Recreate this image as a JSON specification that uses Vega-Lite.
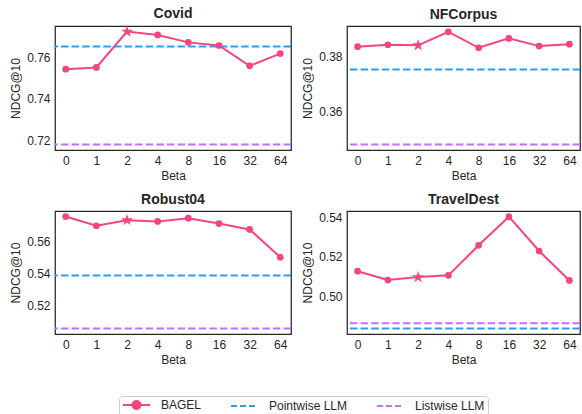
{
  "$schema": "https://vega.github.io/schema/vega-lite/v6.json",
  "padding": {"left": 9, "top": 6, "right": 0, "bottom": 0},
  "background": "white",
  "datasets": {
    "bagel": [
      {"dataset": "Covid", "method": "BAGEL", "beta": 0, "ndcg": 0.7544},
      {"dataset": "Covid", "method": "BAGEL", "beta": 1, "ndcg": 0.7552},
      {"dataset": "Covid", "method": "BAGEL", "beta": 2, "ndcg": 0.7725},
      {"dataset": "Covid", "method": "BAGEL", "beta": 4, "ndcg": 0.7709},
      {"dataset": "Covid", "method": "BAGEL", "beta": 8, "ndcg": 0.7673},
      {"dataset": "Covid", "method": "BAGEL", "beta": 16, "ndcg": 0.7658},
      {"dataset": "Covid", "method": "BAGEL", "beta": 32, "ndcg": 0.7560},
      {"dataset": "Covid", "method": "BAGEL", "beta": 64, "ndcg": 0.7619},
      {"dataset": "NFCorpus", "method": "BAGEL", "beta": 0, "ndcg": 0.3834},
      {"dataset": "NFCorpus", "method": "BAGEL", "beta": 1, "ndcg": 0.3841},
      {"dataset": "NFCorpus", "method": "BAGEL", "beta": 2, "ndcg": 0.3839},
      {"dataset": "NFCorpus", "method": "BAGEL", "beta": 4, "ndcg": 0.3888},
      {"dataset": "NFCorpus", "method": "BAGEL", "beta": 8, "ndcg": 0.3830},
      {"dataset": "NFCorpus", "method": "BAGEL", "beta": 16, "ndcg": 0.3864},
      {"dataset": "NFCorpus", "method": "BAGEL", "beta": 32, "ndcg": 0.3836},
      {"dataset": "NFCorpus", "method": "BAGEL", "beta": 64, "ndcg": 0.3843},
      {"dataset": "Robust04", "method": "BAGEL", "beta": 0, "ndcg": 0.5758},
      {"dataset": "Robust04", "method": "BAGEL", "beta": 1, "ndcg": 0.5700},
      {"dataset": "Robust04", "method": "BAGEL", "beta": 2, "ndcg": 0.5735},
      {"dataset": "Robust04", "method": "BAGEL", "beta": 4, "ndcg": 0.5727},
      {"dataset": "Robust04", "method": "BAGEL", "beta": 8, "ndcg": 0.5748},
      {"dataset": "Robust04", "method": "BAGEL", "beta": 16, "ndcg": 0.5714},
      {"dataset": "Robust04", "method": "BAGEL", "beta": 32, "ndcg": 0.5677},
      {"dataset": "Robust04", "method": "BAGEL", "beta": 64, "ndcg": 0.5502},
      {"dataset": "TravelDest", "method": "BAGEL", "beta": 0, "ndcg": 0.5127},
      {"dataset": "TravelDest", "method": "BAGEL", "beta": 1, "ndcg": 0.5082},
      {"dataset": "TravelDest", "method": "BAGEL", "beta": 2, "ndcg": 0.5097},
      {"dataset": "TravelDest", "method": "BAGEL", "beta": 4, "ndcg": 0.5106},
      {"dataset": "TravelDest", "method": "BAGEL", "beta": 8, "ndcg": 0.5259},
      {"dataset": "TravelDest", "method": "BAGEL", "beta": 16, "ndcg": 0.5405},
      {"dataset": "TravelDest", "method": "BAGEL", "beta": 32, "ndcg": 0.5230},
      {"dataset": "TravelDest", "method": "BAGEL", "beta": 64, "ndcg": 0.5080}
    ],
    "base": [
      {"dataset": "Covid", "method": "Pointwise LLM", "ndcg": 0.7653},
      {"dataset": "Covid", "method": "Listwise LLM", "ndcg": 0.7181},
      {"dataset": "NFCorpus", "method": "Pointwise LLM", "ndcg": 0.3751},
      {"dataset": "NFCorpus", "method": "Listwise LLM", "ndcg": 0.3479},
      {"dataset": "Robust04", "method": "Pointwise LLM", "ndcg": 0.5386},
      {"dataset": "Robust04", "method": "Listwise LLM", "ndcg": 0.5053},
      {"dataset": "TravelDest", "method": "Pointwise LLM", "ndcg": 0.4835},
      {"dataset": "TravelDest", "method": "Listwise LLM", "ndcg": 0.4862}
    ]
  },
  "spacing": 10,
  "vconcat": [
    {
      "spacing": 8,
      "hconcat": [
        {
          "width": 236, "height": 124, "title": "Covid",
          "layer": [
            {"data": {"name": "base"}, "transform": [{"filter": "datum.dataset === 'Covid'"}],
             "mark": {"type": "rule", "strokeWidth": 2, "strokeDash": [7.4, 3.2]},
             "encoding": {"y": {"field": "ndcg", "type": "quantitative", "scale": {"domain": [0.7154, 0.7752], "zero": false, "nice": false}, "axis": {"values": [0.72, 0.74, 0.76], "format": ".2f", "title": "NDCG@10"}},
                          "color": {"field": "method", "type": "nominal", "title": null, "scale": {"domain": ["BAGEL", "Pointwise LLM", "Listwise LLM"], "range": ["#f5457f", "#2a9df4", "#c86ef7"]},
                                    "legend": {"orient": "none", "legendX": 64, "legendY": 370, "direction": "horizontal",
                                               "encode": {"symbols": {"update": {
                                                 "shape": {"signal": "datum.value === 'BAGEL' ? 'M-1,0L4.4,0M0.9,0A0.8,0.8,0,1,0,2.5,0A0.8,0.8,0,1,0,0.9,0' : 'M-1,0L4.4,0'"},
                                                 "strokeDash": {"signal": "datum.value === 'BAGEL' ? [1,0] : [6,3]"},
                                                 "fill": {"signal": "datum.value === 'BAGEL' ? '#f5457f' : 'transparent'"},
                                                 "strokeWidth": {"value": 2}}}}}}}},
            {"data": {"name": "bagel"}, "transform": [{"filter": "datum.dataset === 'Covid'"}],
             "mark": {"type": "line", "strokeWidth": 2},
             "encoding": {"x": {"field": "beta", "type": "ordinal", "scale": {"type": "point", "padding": 0.35}, "axis": {"labelAngle": 0, "title": "Beta"}},
                          "y": {"field": "ndcg", "type": "quantitative"},
                          "color": {"field": "method", "type": "nominal", "title": null}}},
            {"data": {"name": "bagel"}, "transform": [{"filter": "datum.dataset === 'Covid' && datum.beta != 2"}],
             "mark": {"type": "point", "filled": true, "size": 45, "opacity": 1, "color": "#f5457f"},
             "encoding": {"x": {"field": "beta", "type": "ordinal"}, "y": {"field": "ndcg", "type": "quantitative"}}},
            {"data": {"name": "bagel"}, "transform": [{"filter": "datum.dataset === 'Covid' && datum.beta == 2"}],
             "mark": {"type": "point", "shape": "M0,-1L0.2245,-0.309L0.951,-0.309L0.3633,0.118L0.5878,0.809L0,0.382L-0.5878,0.809L-0.3633,0.118L-0.951,-0.309L-0.2245,-0.309Z", "filled": true, "size": 160, "opacity": 1, "color": "#f5457f"},
             "encoding": {"x": {"field": "beta", "type": "ordinal"}, "y": {"field": "ndcg", "type": "quantitative"}}}
          ]
        },
        {
          "width": 233, "height": 124, "title": "NFCorpus",
          "layer": [
            {"data": {"name": "base"}, "transform": [{"filter": "datum.dataset === 'NFCorpus'"}],
             "mark": {"type": "rule", "strokeWidth": 2, "strokeDash": [7.4, 3.2]},
             "encoding": {"y": {"field": "ndcg", "type": "quantitative", "scale": {"domain": [0.3459, 0.3909], "zero": false, "nice": false}, "axis": {"values": [0.36, 0.38], "format": ".2f", "title": "NDCG@10"}},
                          "color": {"field": "method", "type": "nominal", "title": null}}},
            {"data": {"name": "bagel"}, "transform": [{"filter": "datum.dataset === 'NFCorpus'"}],
             "mark": {"type": "line", "strokeWidth": 2},
             "encoding": {"x": {"field": "beta", "type": "ordinal", "scale": {"type": "point", "padding": 0.35}, "axis": {"labelAngle": 0, "title": "Beta"}},
                          "y": {"field": "ndcg", "type": "quantitative"},
                          "color": {"field": "method", "type": "nominal", "title": null}}},
            {"data": {"name": "bagel"}, "transform": [{"filter": "datum.dataset === 'NFCorpus' && datum.beta != 2"}],
             "mark": {"type": "point", "filled": true, "size": 45, "opacity": 1, "color": "#f5457f"},
             "encoding": {"x": {"field": "beta", "type": "ordinal"}, "y": {"field": "ndcg", "type": "quantitative"}}},
            {"data": {"name": "bagel"}, "transform": [{"filter": "datum.dataset === 'NFCorpus' && datum.beta == 2"}],
             "mark": {"type": "point", "shape": "M0,-1L0.2245,-0.309L0.951,-0.309L0.3633,0.118L0.5878,0.809L0,0.382L-0.5878,0.809L-0.3633,0.118L-0.951,-0.309L-0.2245,-0.309Z", "filled": true, "size": 160, "opacity": 1, "color": "#f5457f"},
             "encoding": {"x": {"field": "beta", "type": "ordinal"}, "y": {"field": "ndcg", "type": "quantitative"}}}
          ]
        }
      ]
    },
    {
      "spacing": 8,
      "hconcat": [
        {
          "width": 236, "height": 123, "title": "Robust04",
          "layer": [
            {"data": {"name": "base"}, "transform": [{"filter": "datum.dataset === 'Robust04'"}],
             "mark": {"type": "rule", "strokeWidth": 2, "strokeDash": [7.4, 3.2]},
             "encoding": {"y": {"field": "ndcg", "type": "quantitative", "scale": {"domain": [0.5018, 0.5793], "zero": false, "nice": false}, "axis": {"values": [0.52, 0.54, 0.56], "format": ".2f", "title": "NDCG@10"}},
                          "color": {"field": "method", "type": "nominal", "title": null}}},
            {"data": {"name": "bagel"}, "transform": [{"filter": "datum.dataset === 'Robust04'"}],
             "mark": {"type": "line", "strokeWidth": 2},
             "encoding": {"x": {"field": "beta", "type": "ordinal", "scale": {"type": "point", "padding": 0.35}, "axis": {"labelAngle": 0, "title": "Beta"}},
                          "y": {"field": "ndcg", "type": "quantitative"},
                          "color": {"field": "method", "type": "nominal", "title": null}}},
            {"data": {"name": "bagel"}, "transform": [{"filter": "datum.dataset === 'Robust04' && datum.beta != 2"}],
             "mark": {"type": "point", "filled": true, "size": 45, "opacity": 1, "color": "#f5457f"},
             "encoding": {"x": {"field": "beta", "type": "ordinal"}, "y": {"field": "ndcg", "type": "quantitative"}}},
            {"data": {"name": "bagel"}, "transform": [{"filter": "datum.dataset === 'Robust04' && datum.beta == 2"}],
             "mark": {"type": "point", "shape": "M0,-1L0.2245,-0.309L0.951,-0.309L0.3633,0.118L0.5878,0.809L0,0.382L-0.5878,0.809L-0.3633,0.118L-0.951,-0.309L-0.2245,-0.309Z", "filled": true, "size": 160, "opacity": 1, "color": "#f5457f"},
             "encoding": {"x": {"field": "beta", "type": "ordinal"}, "y": {"field": "ndcg", "type": "quantitative"}}}
          ]
        },
        {
          "width": 233, "height": 123, "title": "TravelDest",
          "layer": [
            {"data": {"name": "base"}, "transform": [{"filter": "datum.dataset === 'TravelDest'"}],
             "mark": {"type": "rule", "strokeWidth": 2, "strokeDash": [7.4, 3.2]},
             "encoding": {"y": {"field": "ndcg", "type": "quantitative", "scale": {"domain": [0.4807, 0.5434], "zero": false, "nice": false}, "axis": {"values": [0.50, 0.52, 0.54], "format": ".2f", "title": "NDCG@10"}},
                          "color": {"field": "method", "type": "nominal", "title": null}}},
            {"data": {"name": "bagel"}, "transform": [{"filter": "datum.dataset === 'TravelDest'"}],
             "mark": {"type": "line", "strokeWidth": 2},
             "encoding": {"x": {"field": "beta", "type": "ordinal", "scale": {"type": "point", "padding": 0.35}, "axis": {"labelAngle": 0, "title": "Beta"}},
                          "y": {"field": "ndcg", "type": "quantitative"},
                          "color": {"field": "method", "type": "nominal", "title": null}}},
            {"data": {"name": "bagel"}, "transform": [{"filter": "datum.dataset === 'TravelDest' && datum.beta != 2"}],
             "mark": {"type": "point", "filled": true, "size": 45, "opacity": 1, "color": "#f5457f"},
             "encoding": {"x": {"field": "beta", "type": "ordinal"}, "y": {"field": "ndcg", "type": "quantitative"}}},
            {"data": {"name": "bagel"}, "transform": [{"filter": "datum.dataset === 'TravelDest' && datum.beta == 2"}],
             "mark": {"type": "point", "shape": "M0,-1L0.2245,-0.309L0.951,-0.309L0.3633,0.118L0.5878,0.809L0,0.382L-0.5878,0.809L-0.3633,0.118L-0.951,-0.309L-0.2245,-0.309Z", "filled": true, "size": 160, "opacity": 1, "color": "#f5457f"},
             "encoding": {"x": {"field": "beta", "type": "ordinal"}, "y": {"field": "ndcg", "type": "quantitative"}}}
          ]
        }
      ]
    }
  ],
  "config": {
    "view": {"stroke": "#262626", "strokeWidth": 1.25},
    "axis": {"grid": false, "ticks": false, "domain": false, "labelFont": "Liberation Sans", "labelFontSize": 12, "labelColor": "#262626", "labelPadding": 5, "titleFont": "Liberation Sans", "titleFontSize": 12, "titleFontWeight": "normal", "titleColor": "#262626", "titlePadding": 4},
    "title": {"font": "Liberation Sans", "fontSize": 14, "fontWeight": "bold", "color": "#262626", "offset": 4},
    "legend": {
      "labelFont": "Liberation Sans", "labelFontSize": 12, "labelColor": "#262626",
      "symbolSize": 100, "symbolStrokeWidth": 2, "labelOffset": 27, "columnPadding": 25,
      "strokeColor": "#cccccc", "cornerRadius": 3, "padding": 3, "fillColor": "white"
    }
  }
}
